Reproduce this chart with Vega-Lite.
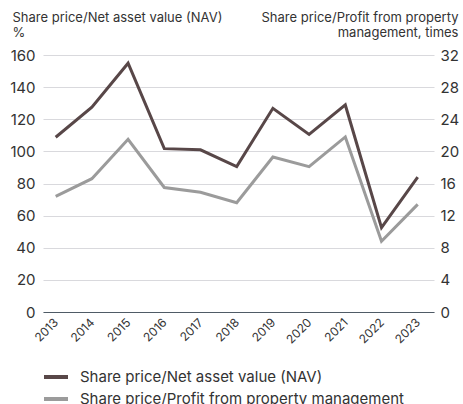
{
  "$schema": "https://vega.github.io/schema/vega-lite/v6.json",
  "width": 391,
  "height": 257,
  "autosize": {"type": "none"},
  "padding": {"left": 43, "top": 55, "right": 29, "bottom": 92},
  "config": {
    "font": "Inter",
    "view": {"stroke": null},
    "axis": {"labelColor": "#333333", "titleColor": "#333333", "ticks": false}
  },
  "data": {
    "values": [
      {"year": 2013, "series": "Share price/Net asset value (NAV)", "value": 108.8},
      {"year": 2014, "series": "Share price/Net asset value (NAV)", "value": 127.5},
      {"year": 2015, "series": "Share price/Net asset value (NAV)", "value": 154.9},
      {"year": 2016, "series": "Share price/Net asset value (NAV)", "value": 101.7},
      {"year": 2017, "series": "Share price/Net asset value (NAV)", "value": 101.0},
      {"year": 2018, "series": "Share price/Net asset value (NAV)", "value": 90.5},
      {"year": 2019, "series": "Share price/Net asset value (NAV)", "value": 126.8},
      {"year": 2020, "series": "Share price/Net asset value (NAV)", "value": 110.6},
      {"year": 2021, "series": "Share price/Net asset value (NAV)", "value": 128.9},
      {"year": 2022, "series": "Share price/Net asset value (NAV)", "value": 52.5},
      {"year": 2023, "series": "Share price/Net asset value (NAV)", "value": 83.9},
      {"year": 2013, "series": "Share price/Profit from property management", "value": 14.4},
      {"year": 2014, "series": "Share price/Profit from property management", "value": 16.6},
      {"year": 2015, "series": "Share price/Profit from property management", "value": 21.5},
      {"year": 2016, "series": "Share price/Profit from property management", "value": 15.5},
      {"year": 2017, "series": "Share price/Profit from property management", "value": 14.9},
      {"year": 2018, "series": "Share price/Profit from property management", "value": 13.6},
      {"year": 2019, "series": "Share price/Profit from property management", "value": 19.3},
      {"year": 2020, "series": "Share price/Profit from property management", "value": 18.1},
      {"year": 2021, "series": "Share price/Profit from property management", "value": 21.8},
      {"year": 2022, "series": "Share price/Profit from property management", "value": 8.8},
      {"year": 2023, "series": "Share price/Profit from property management", "value": 13.4}
    ]
  },
  "encoding": {
    "x": {
      "field": "year",
      "type": "quantitative",
      "scale": {"domain": [2012.65, 2023.45], "nice": false, "zero": false},
      "axis": {
        "title": null,
        "values": [2013, 2014, 2015, 2016, 2017, 2018, 2019, 2020, 2021, 2022, 2023],
        "format": "d",
        "labelAngle": -45,
        "labelAlign": "right",
        "labelBaseline": "middle",
        "labelFontSize": 12,
        "labelPadding": 8,
        "grid": false,
        "domainColor": "#4f5b66",
        "domainWidth": 1.2
      }
    },
    "color": {
      "field": "series",
      "type": "nominal",
      "scale": {
        "domain": ["Share price/Net asset value (NAV)", "Share price/Profit from property management"],
        "range": ["#584748", "#9b9b9b"]
      },
      "legend": {
        "title": null,
        "orient": "none",
        "legendX": -1,
        "legendY": 308,
        "direction": "vertical",
        "symbolType": "stroke",
        "symbolSize": 576,
        "symbolStrokeWidth": 4,
        "labelFontSize": 15,
        "labelLimit": 0,
        "labelColor": "#333333",
        "labelOffset": 10,
        "rowPadding": 0
      }
    }
  },
  "layer": [
    {
      "transform": [{"filter": "datum.series === 'Share price/Net asset value (NAV)'"}],
      "mark": {"type": "line", "strokeWidth": 3},
      "encoding": {
        "y": {
          "field": "value",
          "type": "quantitative",
          "scale": {"domain": [0, 160], "nice": false},
          "axis": {
            "orient": "left",
            "values": [0, 20, 40, 60, 80, 100, 120, 140, 160],
            "domain": false,
            "grid": true,
            "gridColor": "#d9d9dd",
            "gridWidth": 1,
            "labelFontSize": 15,
            "labelPadding": 8,
            "title": ["Share price/Net asset value (NAV)", "%"],
            "titleAngle": 0,
            "titleAlign": "left",
            "titleBaseline": "alphabetic",
            "titleX": -31,
            "titleY": -34,
            "titleFontSize": 13,
            "titleFontWeight": "normal",
            "titleLineHeight": 15
          }
        }
      }
    },
    {
      "transform": [{"filter": "datum.series === 'Share price/Profit from property management'"}],
      "mark": {"type": "line", "strokeWidth": 3},
      "encoding": {
        "y": {
          "field": "value",
          "type": "quantitative",
          "scale": {"domain": [0, 32], "nice": false},
          "axis": {
            "orient": "right",
            "values": [0, 4, 8, 12, 16, 20, 24, 28, 32],
            "domain": false,
            "grid": false,
            "labelFontSize": 15,
            "labelPadding": 6,
            "title": ["Share price/Profit from property", "management, times"],
            "titleAngle": 0,
            "titleAlign": "right",
            "titleBaseline": "alphabetic",
            "titleX": 24,
            "titleY": -34,
            "titleFontSize": 13,
            "titleFontWeight": "normal",
            "titleLineHeight": 15
          }
        }
      }
    }
  ],
  "resolve": {"scale": {"y": "independent"}}
}
